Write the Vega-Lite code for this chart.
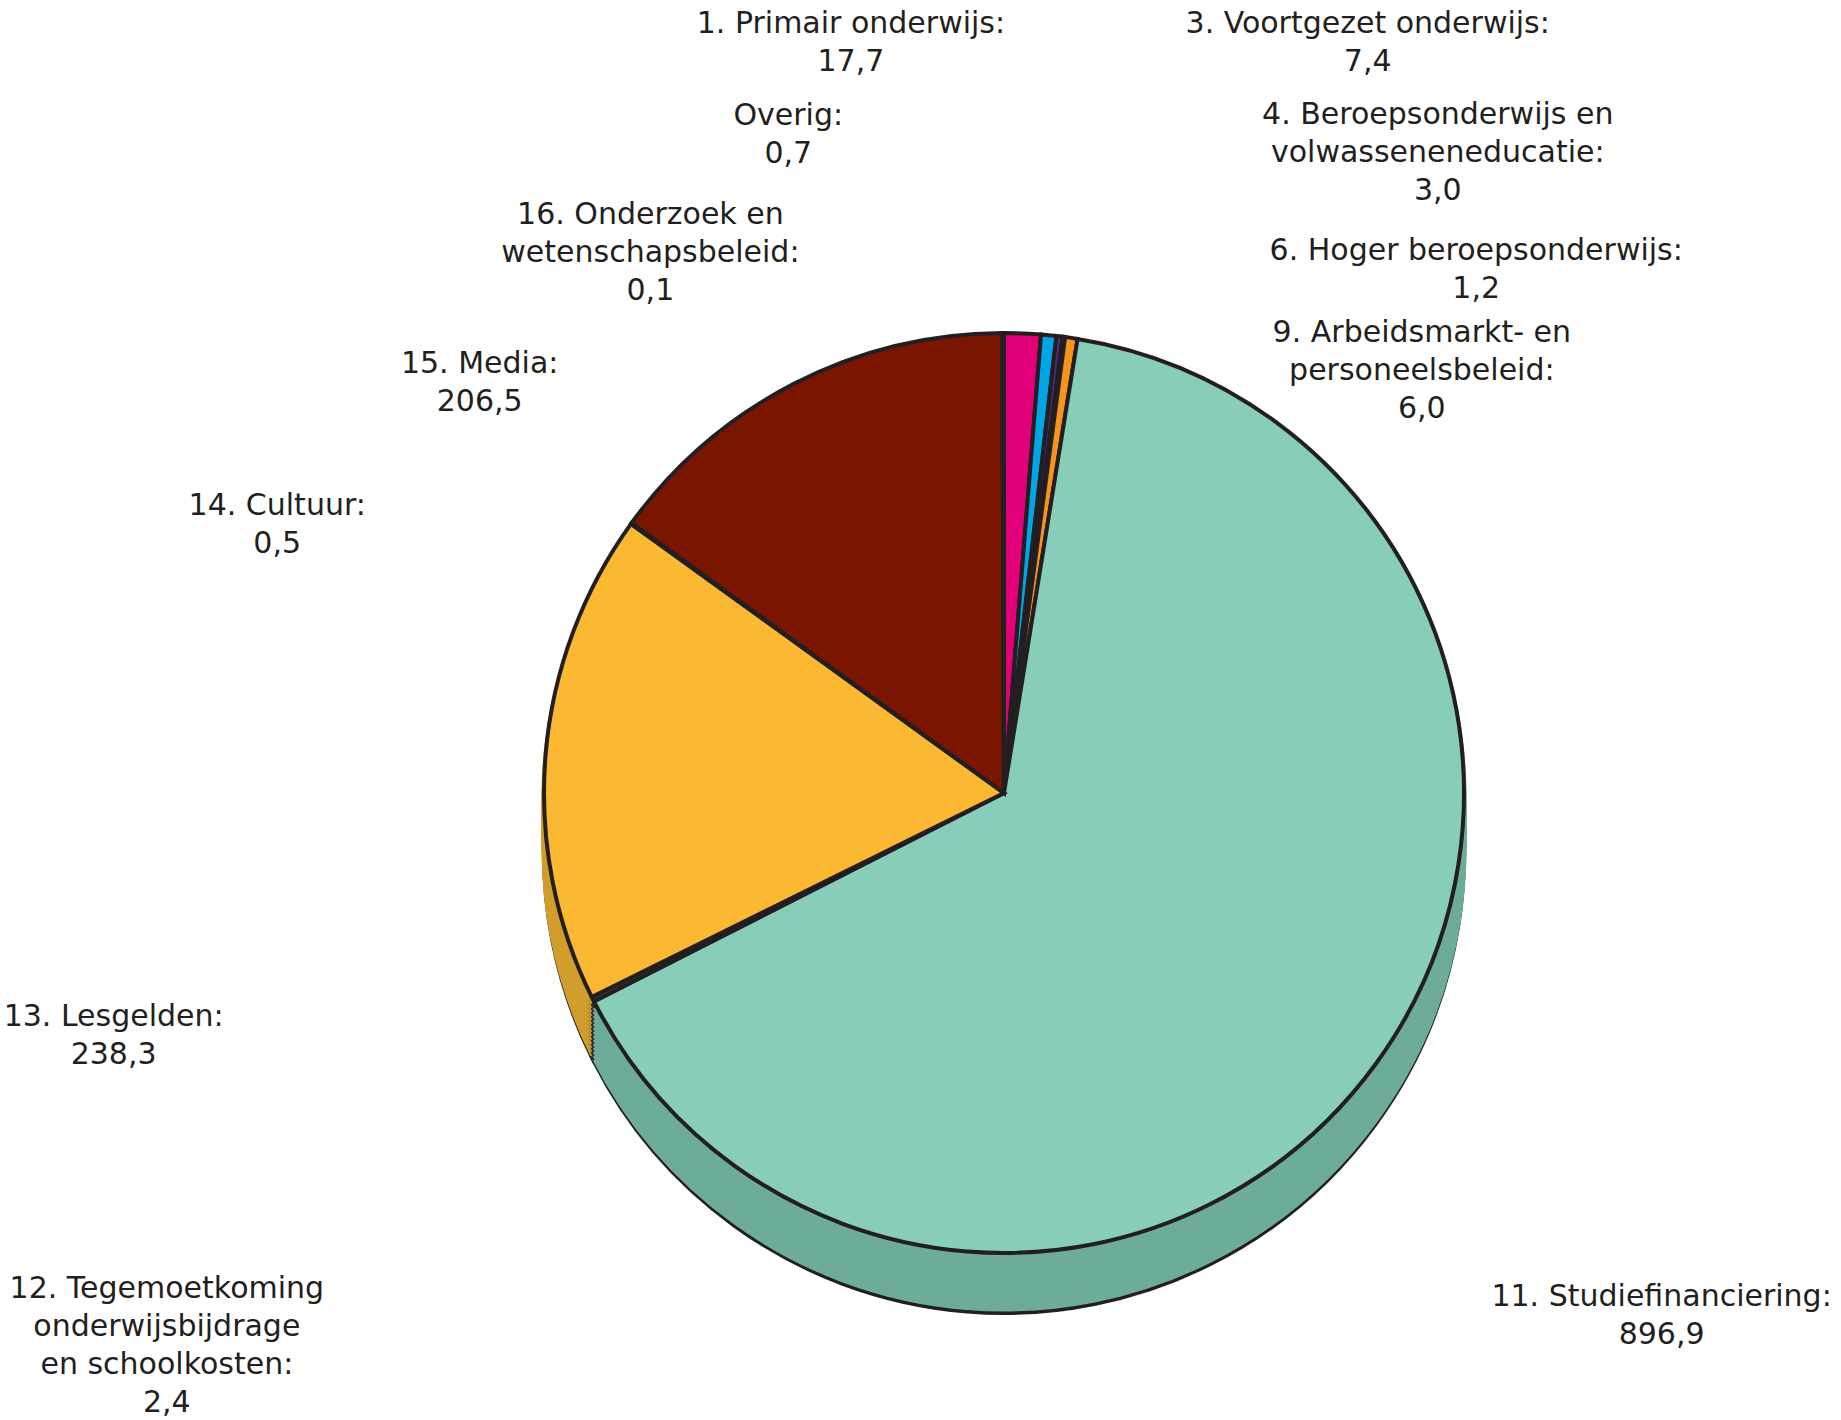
{
  "$schema": "https://vega.github.io/schema/vega-lite/v6.json",
  "width": 1674,
  "height": 1254,
  "autosize": {"type": "none"},
  "padding": {"left": 167, "top": 166, "right": 0, "bottom": 0},
  "background": "white",
  "config": {"view": {"stroke": null}, "legend": {"disable": true}},
  "data": {
    "values": [
      {"idx": 1, "cat": "Primair", "label": "1. Primair onderwijs:\n17,7", "value": 17.7},
      {"idx": 2, "cat": "Voortgezet", "label": "3. Voortgezet onderwijs:\n7,4", "value": 7.4},
      {"idx": 3, "cat": "Beroeps", "label": "4. Beroepsonderwijs en\nvolwasseneneducatie:\n3,0", "value": 3.0},
      {"idx": 4, "cat": "Hoger", "label": "6. Hoger beroepsonderwijs:\n1,2", "value": 1.2},
      {"idx": 5, "cat": "Arbeids", "label": "9. Arbeidsmarkt- en\npersoneelsbeleid:\n6,0", "value": 6.0},
      {"idx": 6, "cat": "Studie", "label": "11. Studiefinanciering:\n896,9", "value": 896.9},
      {"idx": 7, "cat": "Tegemoet", "label": "12. Tegemoetkoming\nonderwijsbijdrage\nen schoolkosten:\n2,4", "value": 2.4},
      {"idx": 8, "cat": "Lesgelden", "label": "13. Lesgelden:\n238,3", "value": 238.3},
      {"idx": 9, "cat": "Cultuur", "label": "14. Cultuur:\n0,5", "value": 0.5},
      {"idx": 10, "cat": "Media", "label": "15. Media:\n206,5", "value": 206.5},
      {"idx": 11, "cat": "Onderzoek", "label": "16. Onderzoek en\nwetenschapsbeleid:\n0,1", "value": 0.1},
      {"idx": 12, "cat": "Overig", "label": "Overig:\n0,7", "value": 0.7}
    ]
  },
  "encoding": {
    "theta": {"field": "value", "type": "quantitative", "stack": true},
    "order": {"field": "idx", "type": "quantitative"}
  },
  "layer": [
    {"mark": {"type": "arc", "radius": 460, "yOffset": 60, "stroke": "#231F20", "strokeWidth": 4},
     "encoding": {"fill": {"field": "cat", "type": "nominal", "legend": null, "scale": {"domain": ["Primair","Voortgezet","Beroeps","Hoger","Arbeids","Studie","Tegemoet","Lesgelden","Cultuur","Media","Onderzoek","Overig"], "range": ["#A8005B","#007DAA","#3A1F63","#201F50","#BA6F16","#6DAB9B","#2C2C2C","#D19D2C","#683410","#5B1000","#404040","#595959"]}}}},
    {"mark": {"type": "arc", "radius": 460, "yOffset": 56, "strokeWidth": 5}, "encoding": {"fill": {"field": "cat", "type": "nominal", "legend": null}, "stroke": {"field": "cat", "type": "nominal", "legend": null, "scale": {"domain": ["Primair","Voortgezet","Beroeps","Hoger","Arbeids","Studie","Tegemoet","Lesgelden","Cultuur","Media","Onderzoek","Overig"], "range": ["#A8005B","#007DAA","#3A1F63","#201F50","#BA6F16","#6DAB9B","#2C2C2C","#D19D2C","#683410","#5B1000","#404040","#595959"]}}}},
    {"mark": {"type": "arc", "radius": 460, "yOffset": 52, "strokeWidth": 5}, "encoding": {"fill": {"field": "cat", "type": "nominal", "legend": null}, "stroke": {"field": "cat", "type": "nominal", "legend": null}}},
    {"mark": {"type": "arc", "radius": 460, "yOffset": 48, "strokeWidth": 5}, "encoding": {"fill": {"field": "cat", "type": "nominal", "legend": null}, "stroke": {"field": "cat", "type": "nominal", "legend": null}}},
    {"mark": {"type": "arc", "radius": 460, "yOffset": 44, "strokeWidth": 5}, "encoding": {"fill": {"field": "cat", "type": "nominal", "legend": null}, "stroke": {"field": "cat", "type": "nominal", "legend": null}}},
    {"mark": {"type": "arc", "radius": 460, "yOffset": 40, "strokeWidth": 5}, "encoding": {"fill": {"field": "cat", "type": "nominal", "legend": null}, "stroke": {"field": "cat", "type": "nominal", "legend": null}}},
    {"mark": {"type": "arc", "radius": 460, "yOffset": 36, "strokeWidth": 5}, "encoding": {"fill": {"field": "cat", "type": "nominal", "legend": null}, "stroke": {"field": "cat", "type": "nominal", "legend": null}}},
    {"mark": {"type": "arc", "radius": 460, "yOffset": 32, "strokeWidth": 5}, "encoding": {"fill": {"field": "cat", "type": "nominal", "legend": null}, "stroke": {"field": "cat", "type": "nominal", "legend": null}}},
    {"mark": {"type": "arc", "radius": 460, "yOffset": 28, "strokeWidth": 5}, "encoding": {"fill": {"field": "cat", "type": "nominal", "legend": null}, "stroke": {"field": "cat", "type": "nominal", "legend": null}}},
    {"mark": {"type": "arc", "radius": 460, "yOffset": 24, "strokeWidth": 5}, "encoding": {"fill": {"field": "cat", "type": "nominal", "legend": null}, "stroke": {"field": "cat", "type": "nominal", "legend": null}}},
    {"mark": {"type": "arc", "radius": 460, "yOffset": 20, "strokeWidth": 5}, "encoding": {"fill": {"field": "cat", "type": "nominal", "legend": null}, "stroke": {"field": "cat", "type": "nominal", "legend": null}}},
    {"mark": {"type": "arc", "radius": 460, "yOffset": 16, "strokeWidth": 5}, "encoding": {"fill": {"field": "cat", "type": "nominal", "legend": null}, "stroke": {"field": "cat", "type": "nominal", "legend": null}}},
    {"mark": {"type": "arc", "radius": 460, "yOffset": 12, "strokeWidth": 5}, "encoding": {"fill": {"field": "cat", "type": "nominal", "legend": null}, "stroke": {"field": "cat", "type": "nominal", "legend": null}}},
    {"mark": {"type": "arc", "radius": 460, "yOffset": 8, "strokeWidth": 5}, "encoding": {"fill": {"field": "cat", "type": "nominal", "legend": null}, "stroke": {"field": "cat", "type": "nominal", "legend": null}}},
    {"mark": {"type": "arc", "radius": 460, "yOffset": 4, "strokeWidth": 5}, "encoding": {"fill": {"field": "cat", "type": "nominal", "legend": null}, "stroke": {"field": "cat", "type": "nominal", "legend": null}}},
    {"mark": {"type": "arc", "radius": 460, "stroke": "#231F20", "strokeWidth": 4},
     "encoding": {"color": {"field": "cat", "type": "nominal", "legend": null, "scale": {"domain": ["Primair","Voortgezet","Beroeps","Hoger","Arbeids","Studie","Tegemoet","Lesgelden","Cultuur","Media","Onderzoek","Overig"], "range": ["#E2007A","#00A6E3","#4E2A84","#2B2A6B","#F7941D","#87CDBA","#3A3A3A","#FBB933","#8B4513","#7A1600","#555555","#777777"]}}}},
    {"mark": {"type": "text", "radius": 470, "dx": -172, "dy": -290, "align": "center", "baseline": "alphabetic", "lineBreak": "\n", "lineHeight": 38, "font": "DejaVu Sans", "fontSize": 30, "color": "#231F20"},
     "encoding": {"text": {"condition": {"test": "datum.cat === 'Primair'", "field": "label", "type": "nominal"}, "value": ""}}},
    {"mark": {"type": "text", "radius": 470, "dx": 318, "dy": -292, "align": "center", "baseline": "alphabetic", "lineBreak": "\n", "lineHeight": 38, "font": "DejaVu Sans", "fontSize": 30, "color": "#231F20"},
     "encoding": {"text": {"condition": {"test": "datum.cat === 'Voortgezet'", "field": "label", "type": "nominal"}, "value": ""}}},
    {"mark": {"type": "text", "radius": 470, "dx": 377, "dy": -202, "align": "center", "baseline": "alphabetic", "lineBreak": "\n", "lineHeight": 38, "font": "DejaVu Sans", "fontSize": 30, "color": "#231F20"},
     "encoding": {"text": {"condition": {"test": "datum.cat === 'Beroeps'", "field": "label", "type": "nominal"}, "value": ""}}},
    {"mark": {"type": "text", "radius": 470, "dx": 411, "dy": -67, "align": "center", "baseline": "alphabetic", "lineBreak": "\n", "lineHeight": 38, "font": "DejaVu Sans", "fontSize": 30, "color": "#231F20"},
     "encoding": {"text": {"condition": {"test": "datum.cat === 'Hoger'", "field": "label", "type": "nominal"}, "value": ""}}},
    {"mark": {"type": "text", "radius": 470, "dx": 349, "dy": 14, "align": "center", "baseline": "alphabetic", "lineBreak": "\n", "lineHeight": 38, "font": "DejaVu Sans", "fontSize": 30, "color": "#231F20"},
     "encoding": {"text": {"condition": {"test": "datum.cat === 'Arbeids'", "field": "label", "type": "nominal"}, "value": ""}}},
    {"mark": {"type": "text", "radius": 470, "dx": 278, "dy": 236, "align": "center", "baseline": "alphabetic", "lineBreak": "\n", "lineHeight": 38, "font": "DejaVu Sans", "fontSize": 30, "color": "#231F20"},
     "encoding": {"text": {"condition": {"test": "datum.cat === 'Studie'", "field": "label", "type": "nominal"}, "value": ""}}},
    {"mark": {"type": "text", "radius": 470, "dx": -417, "dy": 294, "align": "center", "baseline": "alphabetic", "lineBreak": "\n", "lineHeight": 38, "font": "DejaVu Sans", "fontSize": 30, "color": "#231F20"},
     "encoding": {"text": {"condition": {"test": "datum.cat === 'Tegemoet'", "field": "label", "type": "nominal"}, "value": ""}}},
    {"mark": {"type": "text", "radius": 470, "dx": -422, "dy": 272, "align": "center", "baseline": "alphabetic", "lineBreak": "\n", "lineHeight": 38, "font": "DejaVu Sans", "fontSize": 30, "color": "#231F20"},
     "encoding": {"text": {"condition": {"test": "datum.cat === 'Lesgelden'", "field": "label", "type": "nominal"}, "value": ""}}},
    {"mark": {"type": "text", "radius": 470, "dx": -346, "dy": -3, "align": "center", "baseline": "alphabetic", "lineBreak": "\n", "lineHeight": 38, "font": "DejaVu Sans", "fontSize": 30, "color": "#231F20"},
     "encoding": {"text": {"condition": {"test": "datum.cat === 'Cultuur'", "field": "label", "type": "nominal"}, "value": ""}}},
    {"mark": {"type": "text", "radius": 470, "dx": -310, "dy": -2, "align": "center", "baseline": "alphabetic", "lineBreak": "\n", "lineHeight": 38, "font": "DejaVu Sans", "fontSize": 30, "color": "#231F20"},
     "encoding": {"text": {"condition": {"test": "datum.cat === 'Media'", "field": "label", "type": "nominal"}, "value": ""}}},
    {"mark": {"type": "text", "radius": 470, "dx": -352, "dy": -99, "align": "center", "baseline": "alphabetic", "lineBreak": "\n", "lineHeight": 38, "font": "DejaVu Sans", "fontSize": 30, "color": "#231F20"},
     "encoding": {"text": {"condition": {"test": "datum.cat === 'Onderzoek'", "field": "label", "type": "nominal"}, "value": ""}}},
    {"mark": {"type": "text", "radius": 470, "dx": -215, "dy": -198, "align": "center", "baseline": "alphabetic", "lineBreak": "\n", "lineHeight": 38, "font": "DejaVu Sans", "fontSize": 30, "color": "#231F20"},
     "encoding": {"text": {"condition": {"test": "datum.cat === 'Overig'", "field": "label", "type": "nominal"}, "value": ""}}}
  ]
}
